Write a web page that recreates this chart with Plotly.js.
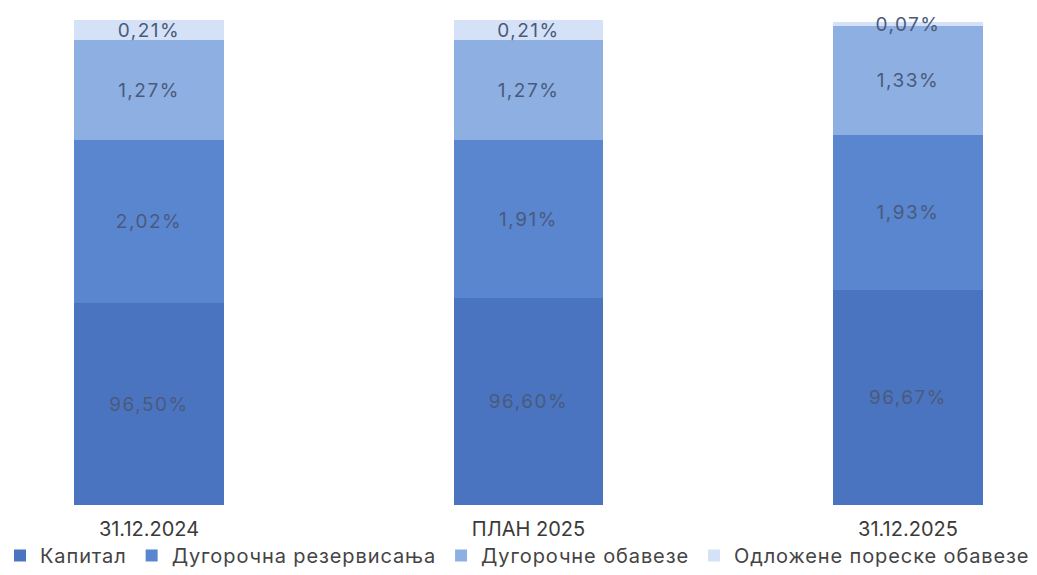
<!DOCTYPE html>
<html>
<head>
<meta charset="utf-8">
<script src="https://cdn.plot.ly/plotly-3.0.1.min.js"></script>
<style>
html,body{margin:0;padding:0;background:#fff;}
#chart{width:1037px;height:575px;}
text.bartext{letter-spacing:1.5px;}
text.legendtext{letter-spacing:0.9px;}
</style>
</head>
<body>
<div id="chart"></div>
<script>
// Categories (x axis tick labels)
const categories = ["31.12.2024", "ПЛАН 2025", "31.12.2025"];

// Series names (legend)
const seriesNames = ["Капитал", "Дугорочна резервисања", "Дугорочне обавезе", "Одложене пореске обавезе"];

// Percentage labels shown on the segments
const kapitalPct = ["96,50%", "96,60%", "96,67%"];
const rezervisanjaPct = ["2,02%", "1,91%", "1,93%"];
const obavezePct = ["1,27%", "1,27%", "1,33%"];
const odlozenePct = ["0,21%", "0,21%", "0,07%"];

// Segment heights as drawn in the picture (the picture is not to scale)
const kapitalDrawn = [202, 207, 215];
const rezervisanjaDrawn = [163, 158, 155];
const obavezeDrawn = [100, 100, 109];
const odlozeneDrawn = [20, 20, 4];

const colors = ["#4a74c0", "#5986ce", "#8eafe1", "#d4e1f6"];
const textColor = "#4a5a7c";
const fontFamily = "Inter, 'Open Sans', sans-serif";

const seriesDrawn = [kapitalDrawn, rezervisanjaDrawn, obavezeDrawn, odlozeneDrawn];
const seriesText = [kapitalPct, rezervisanjaPct, obavezePct, odlozenePct];

const traces = seriesNames.map((name, i) => ({
  type: "bar",
  name: name,
  x: categories,
  y: seriesDrawn[i],
  text: seriesText[i],
  textposition: "inside",
  insidetextanchor: "middle",
  textangle: 0,
  constraintext: "none",
  cliponaxis: false,
  textfont: {family: fontFamily, size: 19, color: textColor},
  marker: {color: colors[i], line: {width: 0}},
  width: 0.395,
  hoverinfo: "skip"
}));

const layout = {
  width: 1037,
  height: 575,
  margin: {l: 40, r: 0, t: 20, b: 70},
  barmode: "stack",
  paper_bgcolor: "#ffffff",
  plot_bgcolor: "#ffffff",
  showlegend: true,
  uniformtext: {mode: "show", minsize: 19},
  font: {family: fontFamily, color: "#333333"},
  xaxis: {
    type: "category",
    range: [-0.2872, 2.3400],
    showgrid: false,
    zeroline: false,
    showline: false,
    ticks: "",
    ticklabelstandoff: 10,
    tickfont: {size: 20, color: "#3a3a3a"}
  },
  yaxis: {
    range: [0, 485],
    visible: false,
    showgrid: false,
    zeroline: false
  },
  legend: {
    orientation: "h",
    x: -0.0401,
    xanchor: "left",
    y: -0.1443,
    yanchor: "bottom",
    bgcolor: "rgba(0,0,0,0)",
    traceorder: "normal",
    font: {size: 20, color: "#444444"},
    itemwidth: 30,
    tracegroupgap: 0
  }
};

Plotly.newPlot("chart", traces, layout, {displayModeBar: false, staticPlot: true});
</script>
</body>
</html>
